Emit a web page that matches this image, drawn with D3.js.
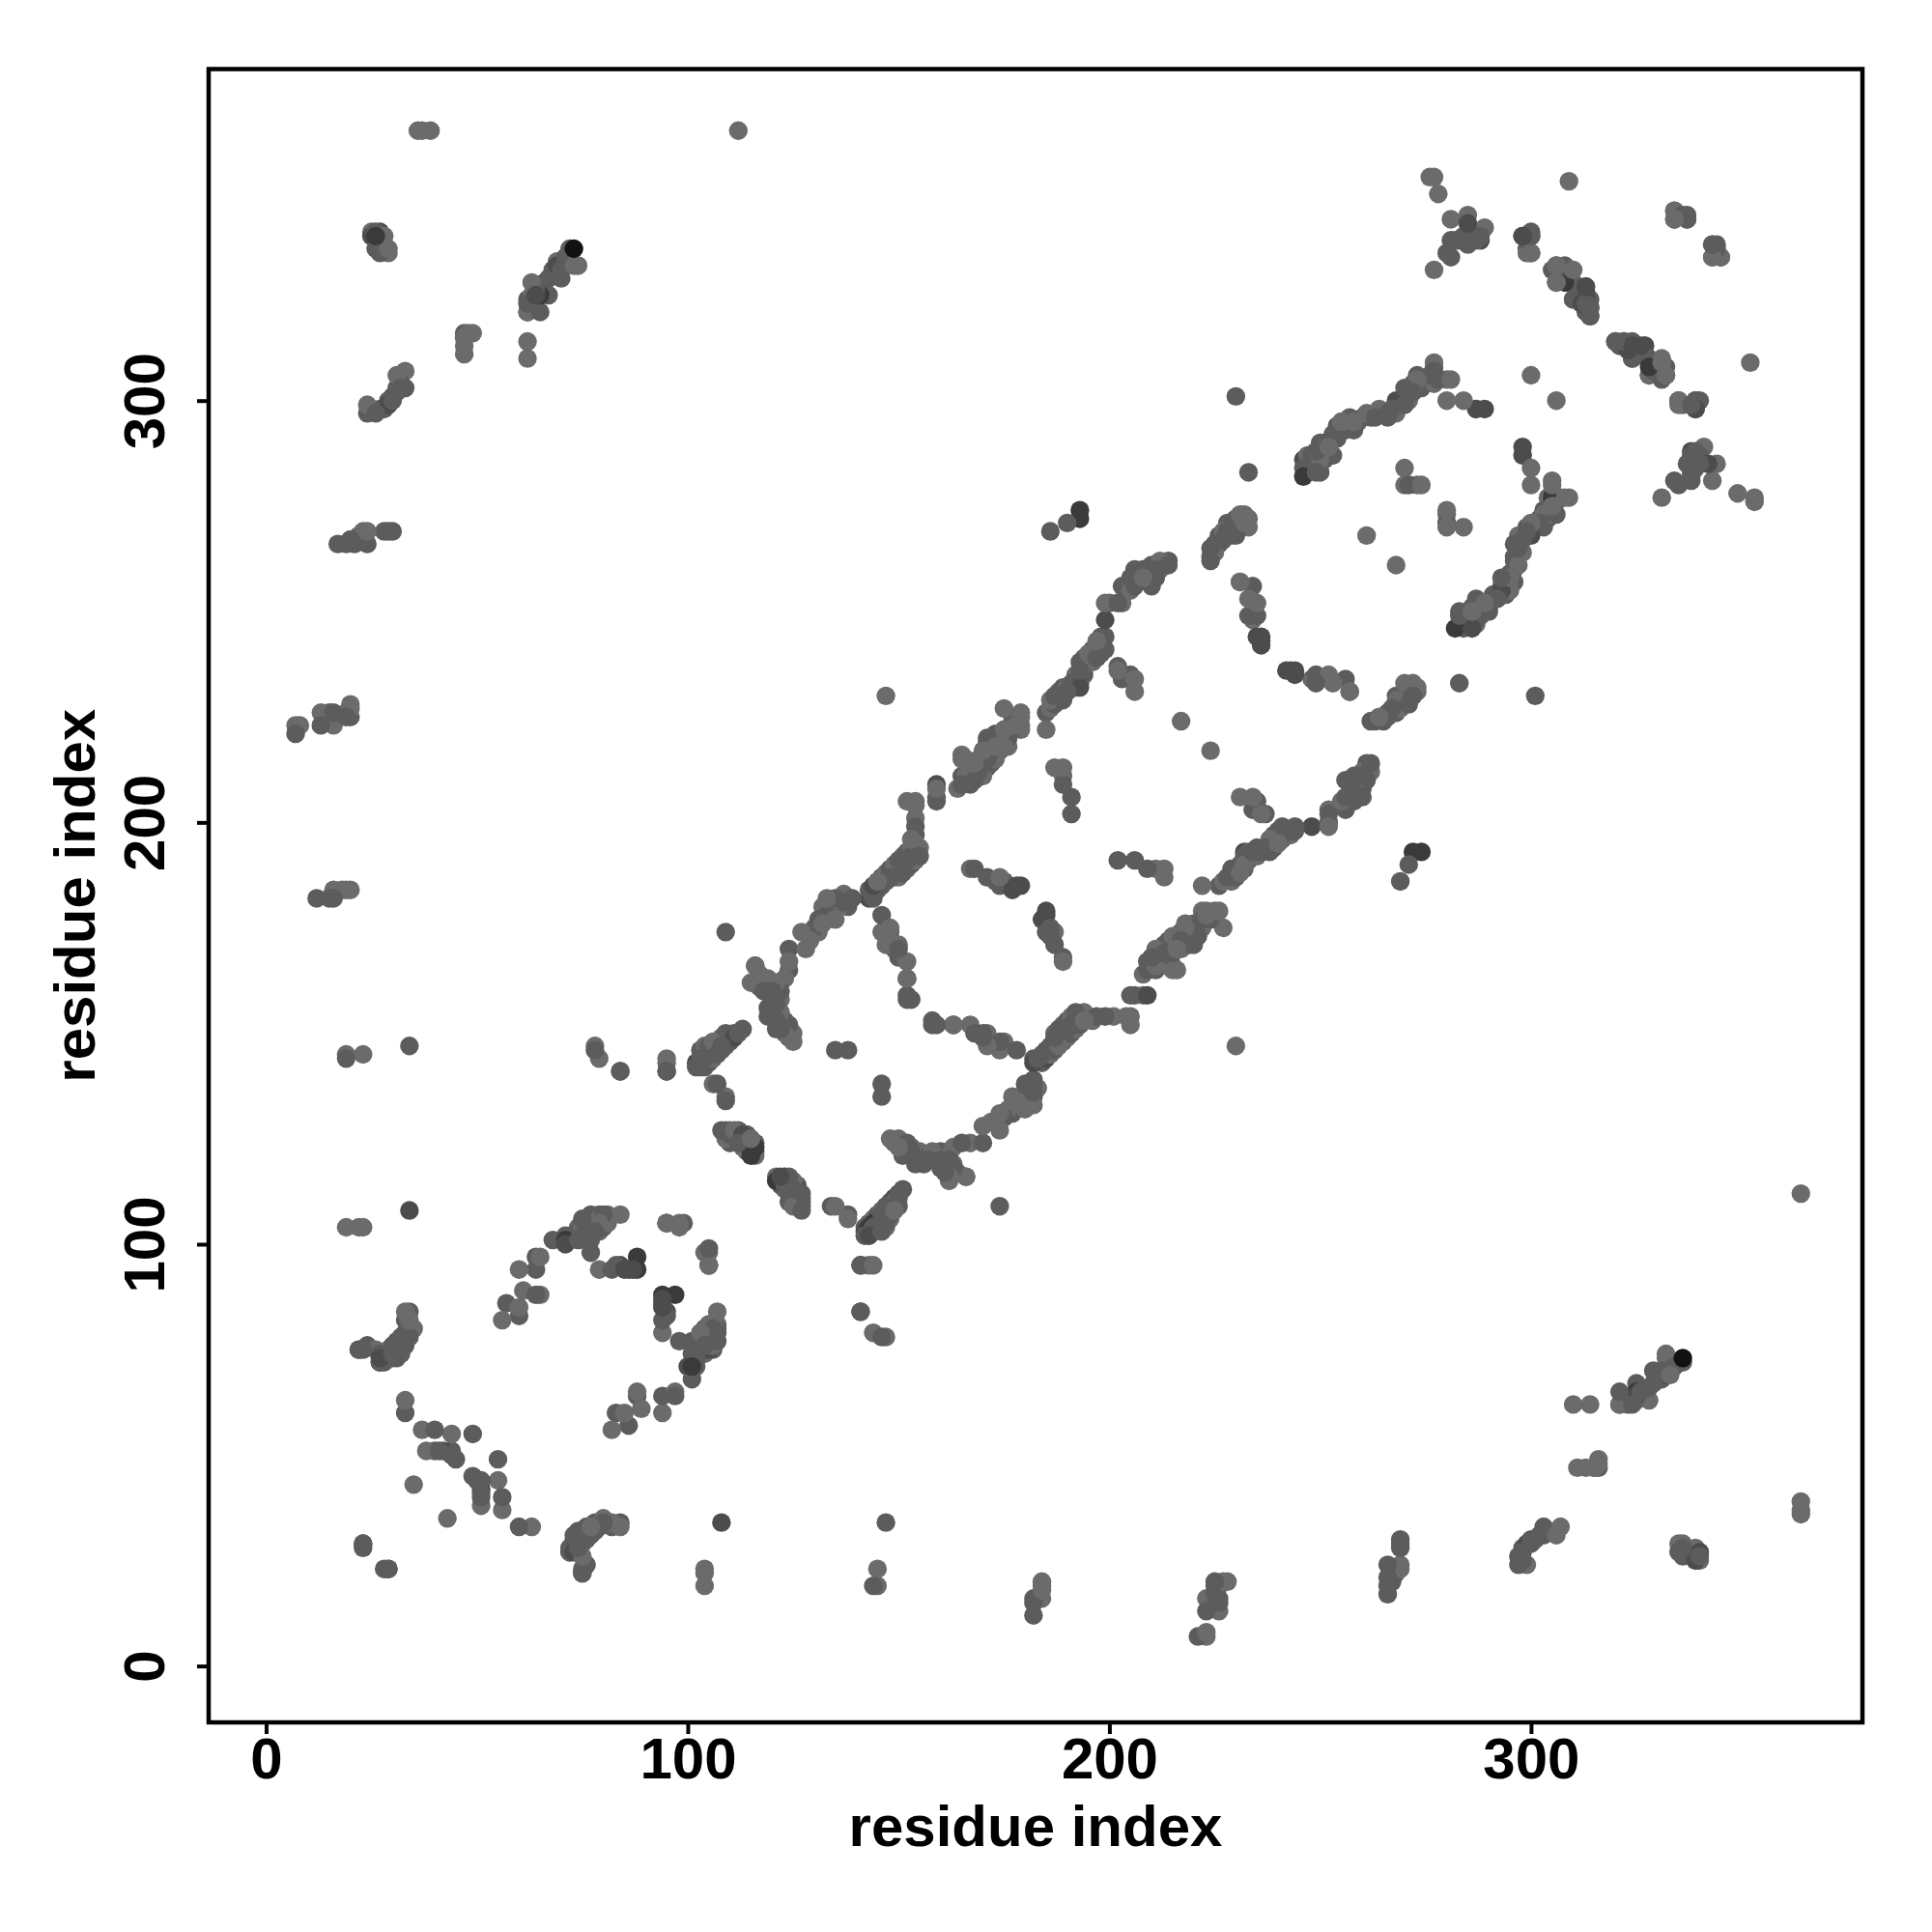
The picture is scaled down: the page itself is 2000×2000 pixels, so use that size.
<!DOCTYPE html>
<html><head><meta charset="utf-8">
<script src="https://cdn.jsdelivr.net/npm/d3@7"></script>
<style>html,body{margin:0;background:#fff}svg{display:block}</style></head>
<body><svg id="c" width="2000" height="2000"></svg>
<script>
// Residue contact pairs [i, j], i<j, each drawn on both sides of the diagonal; grouped by shade.
const contactsPale = [
[19,104],[22,104],[23,104],[33,63],[37,56],[44,55],[38,51],[35,43],[33,84],[35,80],[56,82],[60,85],[61,89],[65,88],[60,94],[65,97],[79,94],[84,107],[98,105],[104,98],[79,105],[81,107],[75,104],
[36,364],[37,364],[39,364],[112,364],[62,314],[62,310],[47,313],[47,311],[47,315],[33,307],[31,306],[23,269],[24,269],[22,268],[7,223],[8,223],[13,226],[20,228],[20,227],[16,223],[16,184],[19,184],[20,184],[18,184],[23,145],[19,145],
[78,147],[79,144],[95,143],[95,144],[147,230],[106,138],[109,135],[116,166],[115,162],[119,163],[123,163],[124,167],[128,170],[127,174],[131,174],[132,180],[135,177],[125,150],[125,148],[123,150],[116,162],[116,166],[154,195],[152,205],[154,205],[154,204],[154,201],[148,171],[146,174],[152,167],[152,163],[148,175],[147,171],[150,171],
[167,189],[174,187],[189,213],[187,213],[189,211],[159,208],[164,208],[165,215],[166,215],[170,217],[175,227],[175,222],[179,226],[185,222],[186,227],[202,236],[199,252],[203,252],[206,231],[206,234],[179,225],[176,218],[173,218],[165,216],[170,212],[179,222],[179,223],
[204,255],[231,257],[233,253],[235,252],[234,248],[257,231],[233,270],[233,272],[232,273],[231,271],[217,224],[261,268],[270,284],[270,280],[273,280],[274,280],[277,304],[277,309],[280,305],[280,300],[284,300],[277,308],[305,281],[251,290],[268,299],[273,305],[274,305],
[300,306],[309,352],[277,353],[276,353],[278,349],[281,343],[285,344],[289,341],[277,331],[306,332],[309,331],[306,328],[331,310],[332,306],[328,306],[334,345],[345,334],[343,334],[335,299],[300,335],[73,332],[74,332],[69,333],[62,321],[63,325],[63,328],[49,316],[48,316],[95,105],[28,339],[29,336],[29,335],[25,340],[24,299],
[145,186],[147,188],[149,190],[151,192],[153,194],[150,187],[152,189],[154,191],[155,194],[153,196],[104,147],[106,148],[108,149],[110,149],[106,144],[108,146],[117,164],[119,161],[121,162],[122,158],[123,151],[122,155],[129,172],[132,176],[134,178],[136,180],[133,182],[137,183],
[166,211],[168,214],[170,216],[172,218],[174,219],[176,222],[178,223],[170,211],[173,215],[175,218],[186,229],[188,231],[190,232],[192,235],[195,240],[197,243],[196,238],[205,255],[208,258],[212,260],[212,262],[225,264],[227,269],[229,268],[231,273],[232,271],
[247,287],[250,286],[252,289],[255,295],[258,295],[261,297],[264,298],[268,297],[271,300],[273,303],[275,305],[74,104],[76,106],[78,104],[79,106],[26,75],[29,75],[33,77],[34,82],[77,103],[79,103],[81,105],[81,106],[109,125],[111,127],[113,123],[115,125],[116,121]
];
const contactsMid = [
[22,75],[23,75],[24,76],[27,74],[28,74],[29,73],[30,74],[30,76],[31,75],[31,77],[32,78],[32,76],[33,79],[34,84],[33,82],[34,78],[33,60],[40,56],[49,55],[40,51],[41,51],[44,51],[44,50],[45,49],[23,29],[23,28],[29,23],
[57,86],[60,83],[64,88],[64,94],[64,97],[68,101],[71,102],[74,101],[77,98],[73,102],[74,103],[76,104],[77,105],[78,106],[79,107],[80,107],[82,94],[83,95],[95,105],[99,105],[105,95],[76,102],[22,75],[74,30],[72,27],
[12,182],[15,182],[16,182],[19,144],[34,147],[84,141],[95,141],[84,141],[78,146],[109,174],[102,142],[103,144],[104,144],[105,145],[106,146],[107,146],[108,147],[109,148],[110,148],[112,150],[113,151],[135,146],[138,146],[107,138],[109,134],
[108,127],[109,127],[110,126],[110,124],[111,125],[112,125],[113,125],[114,123],[117,161],[118,160],[120,160],[120,157],[119,156],[120,155],[119,154],[121,153],[122,153],[121,151],[124,152],[124,165],[122,162],[124,170],[131,177],[134,181],[135,182],[136,182],[138,182],[139,182],[143,184],[144,183],[145,184],[146,185],[147,186],[148,187],[149,188],[150,189],[151,190],[152,191],[153,192],[154,193],[154,197],[154,199],
[159,205],[159,206],[165,209],[165,211],[167,209],[168,210],[169,212],[169,213],[170,214],[171,215],[172,214],[172,217],[171,219],[171,220],[173,221],[174,221],[176,220],[177,222],[185,226],[187,228],[188,229],[189,229],[190,231],[192,232],[193,233],[193,234],[193,236],[193,238],[194,237],[195,238],[196,240],[197,241],[198,242],[199,244],[199,241],[194,235],[197,239],[200,252],[202,252],[202,237],[203,234],[205,235],
[168,189],[171,187],[173,186],[175,186],[174,185],[152,159],[152,158],[153,158],[150,168],[150,170],[148,174],[146,178],[149,170],[191,202],[191,206],[189,209],[214,261],[214,262],[211,260],[210,261],[206,260],[208,260],[205,258],[206,256],[210,256],[203,256],[209,257],[230,270],[229,270],[228,269],[226,268],[225,266],[224,265],[224,263],[224,262],[227,267],[234,256],[233,249],[235,249],
[186,269],[190,271],[233,283],[230,301],[246,284],[248,285],[249,283],[250,283],[249,288],[250,290],[251,288],[252,290],[253,287],[254,291],[254,294],[256,293],[258,293],[257,296],[259,295],[260,296],[262,296],[263,296],[265,297],[266,297],[267,298],[269,300],[270,301],[270,303],[271,303],[272,304],[273,306],[276,306],[277,307],[278,305],[271,280],
[285,337],[281,338],[285,340],[283,338],[281,334],[280,335],[282,338],[284,339],[287,340],[287,338],[288,339],[299,336],[300,339],[300,340],[308,332],[307,331],[309,328],[310,324],[312,325],[313,323],[311,326],[314,320],[320,314],[321,313],[322,314],[324,314],[325,312],[324,310],[326,311],[330,308],[329,307],[331,305],[328,310],
[334,343],[337,344],[337,343],[343,337],[344,336],[335,300],[339,300],[338,299],[72,336],[70,331],[70,329],[67,329],[65,326],[64,326],[66,328],[68,331],[71,334],[62,324],[62,323],[65,321],[67,325],[47,316],[47,315],[26,340],[26,336],[27,335],[28,336],[32,304],[33,303],[31,302],[30,301],[30,300],[29,300],[28,298],[26,297],[24,297],[25,298],[27,298],[31,303],[32,303],[17,266],[19,266],[20,267],[21,266],[24,266],[28,269],[29,269],[30,269],[7,221],[13,223],[15,226],[16,226],[17,225],[19,225],[20,225],[19,226],
[144,182],[146,187],[148,189],[150,191],[152,193],[149,187],[151,188],[153,190],[155,192],[103,146],[105,147],[107,148],[109,150],[111,150],[104,142],[105,143],[107,145],[109,147],[118,163],[120,162],[122,160],[121,157],[124,149],[122,151],[123,153],[130,175],[133,178],[135,180],[138,180],[137,181],
[167,213],[169,215],[171,217],[173,219],[175,220],[177,224],[168,212],[171,213],[174,217],[187,230],[189,232],[191,233],[194,239],[196,241],[198,244],[198,240],[207,258],[211,258],[226,266],[228,271],[230,272],[230,268],
[248,287],[251,286],[253,292],[256,295],[266,296],[270,299],[272,302],[274,303],[269,299],[271,302],[75,106],[77,107],[76,103],[75,102],[28,72],[30,73],[31,73],[32,74],[33,76],[34,80],[76,101],[78,103],[80,104],[77,101],[80,106],[110,127],[112,124],[114,122],[114,126],[116,124],[112,127]
];
const contactsDark = [
[27,72],[27,73],[34,108],[42,51],[71,100],[75,105],[84,95],[85,94],[86,94],[87,94],[95,141],[102,143],[103,142],[111,149],[107,147],[116,122],[114,124],[113,126],[112,126],[143,182],[144,185],[146,186],[152,163],[120,154],[159,209],[175,186],[178,185],[179,185],[177,184],[193,232],[199,248],[236,242],[236,243],[236,244],[235,244],[246,286],[287,298],[289,298],[249,285],[255,293],[268,300],[298,339],[314,322],[313,327],[313,324],[326,313],[327,313],[328,309],[323,312],[339,298],[285,342],[288,338],[25,339],[29,299],[62,321],[69,332],[27,340],[20,267],[64,325]
];
const contactsDarkest = [
[88,97],[88,94],[115,123],[115,122],[115,121],[116,123],[193,272],[193,274],[246,282],[308,328],[65,325],[26,339],[104,143],[105,144],[277,305],[71,101]
];
const contactsBlack = [[73,336]];

const shadeLevels = [
  {pairs: contactsDarkest, shade: "#3a3a3a"},
  {pairs: contactsDark, shade: "#4c4c4c"},
  {pairs: contactsMid, shade: "#5c5c5c"},
  {pairs: contactsPale, shade: "#6b6b6b"},
  {pairs: contactsBlack, shade: "#121212"}
];
const tickValues = [0, 100, 200, 300];
const axisTitle = "residue index";

const FONT = "'Liberation Sans', Arial, sans-serif";
const L = 216, R = 1928, T = 71.5, B = 1783;
const x = d3.scaleLinear().domain([-13.62, 378.6]).range([L, R]);
const y = d3.scaleLinear().domain([-13.37, 378.6]).range([B, T]);
const svg = d3.select("#c");

const points = shadeLevels.flatMap(l => l.pairs.flatMap(([i, j]) => [
  {i, j, shade: l.shade, dark: l.pairs === contactsBlack},
  {i: j, j: i, shade: l.shade, dark: l.pairs === contactsBlack}
]));
// mixed drawing order along the sequence, the darkest contact last
points.sort((a, b) => (a.dark - b.dark) || ((a.i * 7 + a.j * 13) % 17 - (b.i * 7 + b.j * 13) % 17));

svg.append("g").selectAll("circle").data(points).join("circle")
  .attr("cx", d => x(d.i)).attr("cy", d => y(d.j)).attr("r", 9.7).attr("fill", d => d.shade);

svg.append("rect").attr("x", L).attr("y", T).attr("width", R - L).attr("height", B - T)
  .attr("fill", "none").attr("stroke", "#000").attr("stroke-width", 4.5);

const ax = svg.append("g").attr("transform", `translate(0,${B})`)
  .call(d3.axisBottom(x).tickValues(tickValues).tickSize(12).tickPadding(0).tickFormat(d3.format("d")));
const ay = svg.append("g").attr("transform", `translate(${L},0)`)
  .call(d3.axisLeft(y).tickValues(tickValues).tickSize(12).tickPadding(0).tickFormat(d3.format("d")));
[ax, ay].forEach(g => {
  g.select(".domain").remove();
  g.selectAll("line").attr("stroke", "#000").attr("stroke-width", 4);
  g.selectAll("text").attr("font-family", FONT).attr("font-weight", "bold").attr("font-size", 60).attr("fill", "#000");
});
ax.selectAll("text").attr("y", 0).attr("dy", 0).attr("transform", "translate(0,58)");
ay.selectAll("text").attr("x", 0).attr("dy", 0).attr("text-anchor", "middle")
  .attr("transform", "translate(-46,0) rotate(-90)");

svg.append("text").text(axisTitle).attr("x", (L + R) / 2).attr("y", 1911).attr("text-anchor", "middle")
  .attr("font-family", FONT).attr("font-weight", "bold").attr("font-size", 60);
svg.append("text").text(axisTitle).attr("text-anchor", "middle")
  .attr("transform", `translate(98,${(T + B) / 2}) rotate(-90)`)
  .attr("font-family", FONT).attr("font-weight", "bold").attr("font-size", 60);
</script></body></html>
